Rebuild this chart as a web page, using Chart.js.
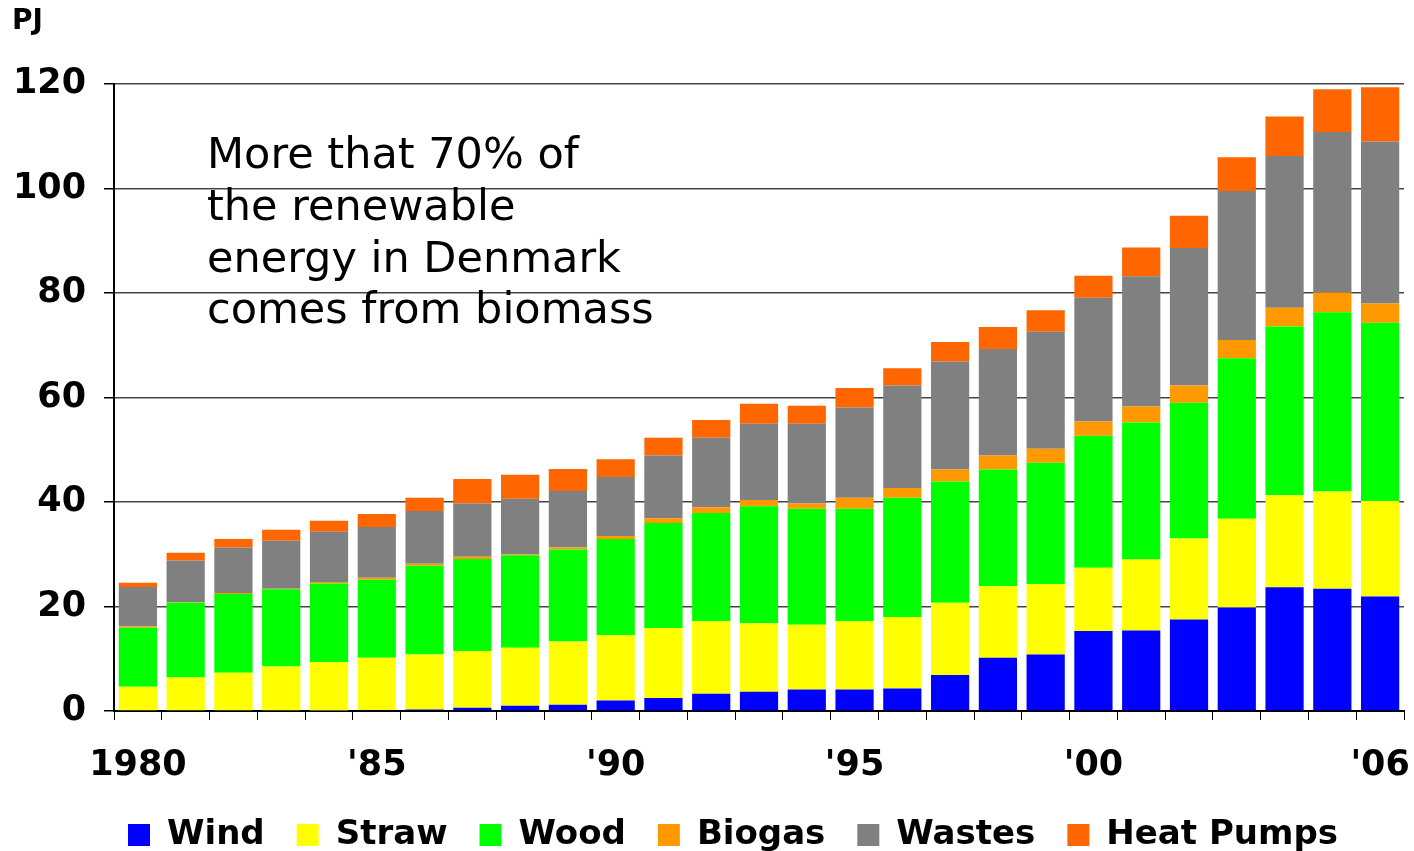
<!DOCTYPE html>
<html>
<head>
<meta charset="utf-8">
<script src="https://cdn.jsdelivr.net/npm/chart.js@4"></script>
<style>
  html, body { margin: 0; padding: 0; background: #fff; }
  #wrap { width: 1414px; height: 851px; }
</style>
</head>
<body>
<div id="wrap"><canvas id="bioChart"></canvas></div>
<script>
// Renewable energy in Denmark, PJ
const years = ['1980','1981','1982','1983','1984','1985','1986','1987','1988','1989',
  '1990','1991','1992','1993','1994','1995','1996','1997','1998','1999',
  '2000','2001','2002','2003','2004','2005','2006'];
const tickLabels = ['1980','','','','',"'85",'','','','',"'90",'','','','',"'95",'','','','',
  "'00",'','','','','',"'06"];

const wind   = [0, 0, 0, 0, 0.1, 0.2, 0.3, 0.6, 1.0, 1.2, 2.0, 2.5, 3.3, 3.7, 4.1, 4.1, 4.3, 6.9, 10.2, 10.8, 15.3, 15.4, 17.5, 19.8, 23.7, 23.4, 21.9];
const straw  = [4.65, 6.4, 7.3, 8.5, 9.3, 10.0, 10.5, 10.9, 11.1, 12.1, 12.5, 13.4, 13.9, 13.1, 12.4, 13.1, 13.7, 13.8, 13.7, 13.5, 12.1, 13.6, 15.5, 17.0, 17.6, 18.6, 18.3];
const wood   = [11.3, 14.3, 15.1, 14.8, 15.0, 14.9, 17.0, 17.6, 17.7, 17.6, 18.4, 20.1, 20.7, 22.4, 22.2, 21.5, 22.8, 23.2, 22.3, 23.2, 25.3, 26.2, 26.0, 30.7, 32.3, 34.3, 34.1];
const biogas = [0.2, 0.1, 0.2, 0.1, 0.3, 0.4, 0.4, 0.4, 0.2, 0.4, 0.6, 0.9, 1.1, 1.2, 1.0, 2.1, 1.9, 2.3, 2.7, 2.7, 2.7, 3.1, 3.3, 3.5, 3.6, 3.8, 3.7];
const wastes = [7.6, 8.0, 8.7, 9.2, 9.6, 9.7, 10.1, 10.2, 10.6, 10.8, 11.3, 12.0, 13.3, 14.6, 15.3, 17.3, 19.6, 20.7, 20.4, 22.4, 23.7, 24.9, 26.3, 28.5, 29.0, 30.7, 31.0];
const heatPumps = [0.8, 1.5, 1.6, 2.1, 2.1, 2.5, 2.5, 4.7, 4.6, 4.2, 3.4, 3.4, 3.4, 3.8, 3.4, 3.7, 3.3, 3.7, 4.2, 4.1, 4.2, 5.5, 6.2, 6.5, 7.6, 8.2, 10.4];

const yTicks = [0, 20, 40, 60, 80, 100, 120];
const noteLines = ['More that 70% of', 'the renewable', 'energy in Denmark', 'comes from biomass'];

const FONT = "'DejaVu Sans', Verdana, sans-serif";

// text box in the upper left of the plot
const notePlugin = {
  id: 'note',
  afterLayout(chart) {
    // legend row sits a bit right of centre in the original
    if (chart.legend) chart.legend.left += 50;
  },
  afterDraw(chart) {
    const ctx = chart.ctx;
    const area = chart.chartArea;
    ctx.save();
    ctx.font = '43px ' + FONT;
    ctx.fillStyle = '#000';
    ctx.textAlign = 'left';
    ctx.textBaseline = 'middle';
    noteLines.forEach((line, i) => {
      ctx.fillText(line, area.left + 93, area.top + 73 + i * 51.7);
    });
    ctx.restore();
  }
};

function series(label, data, color) {
  return { label: label, data: data, backgroundColor: color, borderWidth: 0 };
}

new Chart(document.getElementById('bioChart').getContext('2d'), {
  type: 'bar',
  data: {
    labels: years,
    datasets: [
      series('Wind', wind, '#0000FF'),
      series('Straw', straw, '#FFFF00'),
      series('Wood', wood, '#00FF00'),
      series('Biogas', biogas, '#FF9900'),
      series('Wastes', wastes, '#808080'),
      series('Heat Pumps', heatPumps, '#FF6600')
    ]
  },
  options: {
    responsive: true,
    maintainAspectRatio: false,
    animation: false,
    datasets: { bar: { categoryPercentage: 1, barPercentage: 0.8 } },
    layout: { padding: { left: 12, right: 10, top: 0, bottom: -11 } },
    plugins: {
      tooltip: { enabled: false },
      title: {
        display: true,
        text: 'PJ',
        align: 'start',
        color: '#000',
        font: { family: FONT, size: 28, weight: 'bold' },
        padding: { top: 5, bottom: 45.4 }
      },
      legend: {
        position: 'bottom',
        labels: {
          color: '#000',
          boxWidth: 22,
          boxHeight: 22,
          padding: 32,
          font: { family: FONT, size: 34, weight: 'bold' }
        }
      }
    },
    scales: {
      x: {
        stacked: true,
        grid: { offset: true, drawOnChartArea: false, drawTicks: true, tickLength: 9, color: '#000' },
        border: { color: '#000', width: 2 },
        ticks: {
          autoSkip: false,
          maxRotation: 0,
          padding: 25,
          color: '#000',
          font: { family: FONT, size: 35, weight: 'bold' },
          callback: (value, index) => tickLabels[index]
        },
        afterFit: scale => {
          scale.height = 75;
          scale.paddingLeft = 0;
          scale.paddingRight = 0;
        }
      },
      y: {
        stacked: true,
        min: 0,
        max: 120,
        afterBuildTicks: scale => { scale.ticks = yTicks.map(v => ({ value: v })); },
        grid: { color: '#444', lineWidth: 1.5, tickLength: 10, tickColor: '#000' },
        border: { color: '#000', width: 2 },
        ticks: {
          padding: 18,
          color: '#000',
          font: { family: FONT, size: 35, weight: 'bold' }
        },
        afterFit: scale => { scale.width = 102; }
      }
    }
  },
  plugins: [notePlugin]
});
</script>
</body>
</html>
